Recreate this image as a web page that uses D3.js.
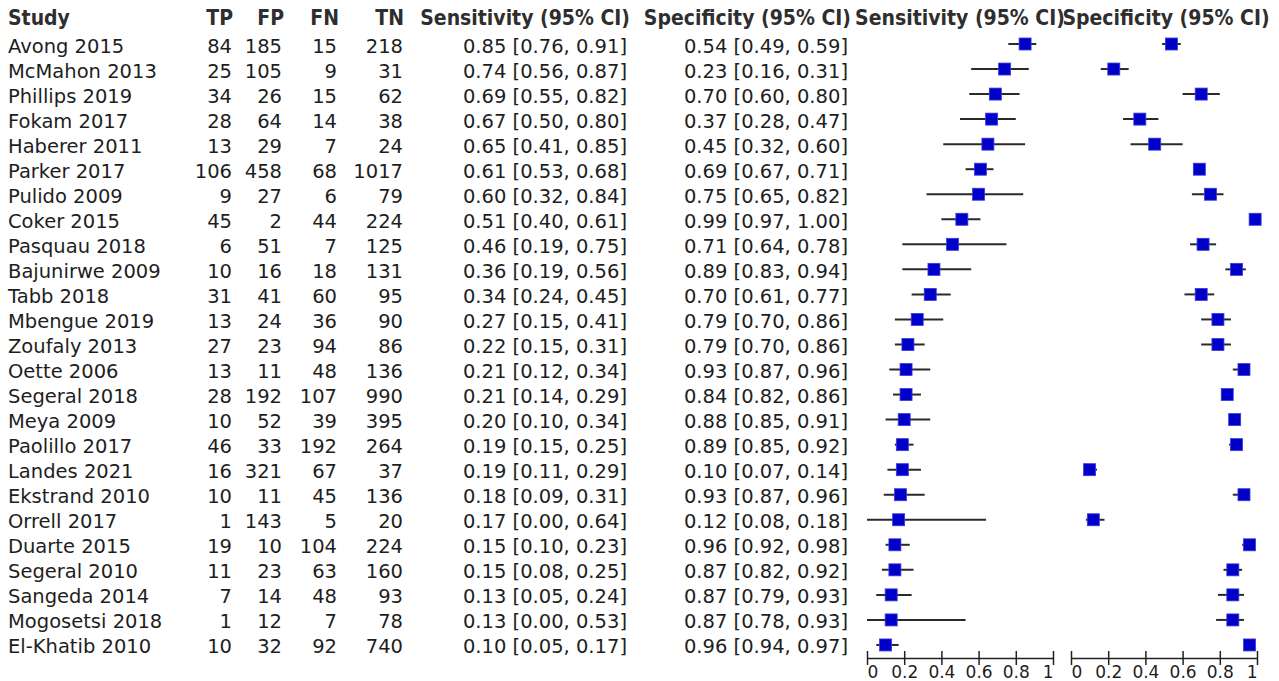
<!DOCTYPE html>
<html>
<head>
<meta charset="utf-8">
<script src="https://cdn.jsdelivr.net/npm/d3@7"></script>
<style>
  html, body { margin: 0; padding: 0; background: #fff; }
  svg { display: block; }
</style>
</head>
<body>
<svg id="chart" width="1279" height="681"></svg>
<script>
// ---------- DATA ----------
const studies = ["Avong 2015","McMahon 2013","Phillips 2019","Fokam 2017","Haberer 2011","Parker 2017","Pulido 2009","Coker 2015","Pasquau 2018","Bajunirwe 2009","Tabb 2018","Mbengue 2019","Zoufaly 2013","Oette 2006","Segeral 2018","Meya 2009","Paolillo 2017","Landes 2021","Ekstrand 2010","Orrell 2017","Duarte 2015","Segeral 2010","Sangeda 2014","Mogosetsi 2018","El-Khatib 2010"];
const tp = [84,25,34,28,13,106,9,45,6,10,31,13,27,13,28,10,46,16,10,1,19,11,7,1,10];
const fp = [185,105,26,64,29,458,27,2,51,16,41,24,23,11,192,52,33,321,11,143,10,23,14,12,32];
const fn = [15,9,15,14,7,68,6,44,7,18,60,36,94,48,107,39,192,67,45,5,104,63,48,7,92];
const tn = [218,31,62,38,24,1017,79,224,125,131,95,90,86,136,990,395,264,37,136,20,224,160,93,78,740];
const sens   = [0.85,0.74,0.69,0.67,0.65,0.61,0.60,0.51,0.46,0.36,0.34,0.27,0.22,0.21,0.21,0.20,0.19,0.19,0.18,0.17,0.15,0.15,0.13,0.13,0.10];
const sensLo = [0.76,0.56,0.55,0.50,0.41,0.53,0.32,0.40,0.19,0.19,0.24,0.15,0.15,0.12,0.14,0.10,0.15,0.11,0.09,0.00,0.10,0.08,0.05,0.00,0.05];
const sensHi = [0.91,0.87,0.82,0.80,0.85,0.68,0.84,0.61,0.75,0.56,0.45,0.41,0.31,0.34,0.29,0.34,0.25,0.29,0.31,0.64,0.23,0.25,0.24,0.53,0.17];
const spec   = [0.54,0.23,0.70,0.37,0.45,0.69,0.75,0.99,0.71,0.89,0.70,0.79,0.79,0.93,0.84,0.88,0.89,0.10,0.93,0.12,0.96,0.87,0.87,0.87,0.96];
const specLo = [0.49,0.16,0.60,0.28,0.32,0.67,0.65,0.97,0.64,0.83,0.61,0.70,0.70,0.87,0.82,0.85,0.85,0.07,0.87,0.08,0.92,0.82,0.79,0.78,0.94];
const specHi = [0.59,0.31,0.80,0.47,0.60,0.71,0.82,1.00,0.78,0.94,0.77,0.86,0.86,0.96,0.86,0.91,0.92,0.14,0.96,0.18,0.98,0.92,0.93,0.93,0.97];
const tickValues = [0, 0.2, 0.4, 0.6, 0.8, 1];
const tickLabels = ["0", "0.2", "0.4", "0.6", "0.8", "1"];
const headers = ["Study","TP","FP","FN","TN","Sensitivity (95% CI)","Specificity (95% CI)"];
const plotHeaders = ["Sensitivity (95% CI)","Specificity (95% CI)"];

// ---------- LAYOUT ----------
const svg = d3.select("#chart");
const FONT = "'DejaVu Sans', sans-serif";
const HFONT = "'DejaVu Sans Condensed', 'DejaVu Sans', sans-serif";
const textColor = "#1e1e1e";
const headColor = "#2e2e2e";

const rows = studies.map((s, i) => ({
  study: s, tp: tp[i], fp: fp[i], fn: fn[i], tn: tn[i],
  sens: sens[i], sensLo: sensLo[i], sensHi: sensHi[i],
  spec: spec[i], specLo: specLo[i], specHi: specHi[i]
}));

const y = d3.scalePoint().domain(studies).range([44, 44 + 24 * 25.04]);
const xSens = d3.scaleLinear().domain([0, 1]).range([867, 1053]);
const xSpec = d3.scaleLinear().domain([0, 1]).range([1071, 1257]);

const fmt = d3.format(".2f");
const ciText = (v, lo, hi) => `${fmt(v)} [${fmt(lo)}, ${fmt(hi)}]`;

const cols = [
  {x: 8,   anchor: "start", f: d => d.study},
  {x: 232, anchor: "end",   f: d => d.tp},
  {x: 282, anchor: "end",   f: d => d.fp},
  {x: 337, anchor: "end",   f: d => d.fn},
  {x: 403, anchor: "end",   f: d => d.tn},
  {x: 627, anchor: "end",   f: d => ciText(d.sens, d.sensLo, d.sensHi)},
  {x: 848, anchor: "end",   f: d => ciText(d.spec, d.specLo, d.specHi)}
];
const headX = [8, 233, 284, 339, 404, 630, 851];

// headers
const headerY = 25;
svg.append("g").selectAll("text").data(headers).join("text")
  .attr("x", (d, i) => headX[i])
  .attr("y", headerY)
  .attr("text-anchor", (d, i) => cols[i].anchor)
  .attr("font-family", HFONT).attr("font-stretch", "condensed")
  .attr("font-weight", "bold").attr("font-size", 21)
  .attr("fill", headColor)
  .text(d => d);

svg.append("g").selectAll("text").data(plotHeaders).join("text")
  .attr("x", (d, i) => i === 0 ? (xSens(0) + xSens(1)) / 2 : (xSpec(0) + xSpec(1)) / 2 + 2)
  .attr("y", headerY)
  .attr("text-anchor", "middle")
  .attr("font-family", HFONT).attr("font-stretch", "condensed")
  .attr("font-weight", "bold").attr("font-size", 21)
  .attr("fill", headColor)
  .text(d => d);

// body text
const body = svg.append("g");
cols.forEach(c => {
  body.append("g").selectAll("text").data(rows).join("text")
    .attr("x", c.x)
    .attr("y", d => y(d.study) + 8.5)
    .attr("text-anchor", c.anchor)
    .attr("font-family", FONT).attr("font-size", 19.5)
    .attr("fill", textColor)
    .text(c.f);
});

// forest panels
function panel(x, est, lo, hi) {
  const g = svg.append("g");
  g.selectAll("line").data(rows).join("line")
    .attr("x1", d => x(d[lo])).attr("x2", d => x(d[hi]))
    .attr("y1", d => y(d.study)).attr("y2", d => y(d.study))
    .attr("stroke", "#2a2a2a").attr("stroke-width", 2);
  const s = 12;
  g.selectAll("rect").data(rows).join("rect")
    .attr("x", d => x(d[est]) - s / 2).attr("y", d => y(d.study) - s / 2)
    .attr("width", s).attr("height", s)
    .attr("fill", "#0000c8").attr("stroke", "#3a3ae0").attr("stroke-width", 0.8);

  const axisY = 658;
  const ax = d3.axisBottom(x).tickValues(tickValues)
    .tickFormat((d, i) => tickLabels[i]).tickSize(7).tickSizeOuter(0);
  const ag = svg.append("g").attr("transform", `translate(0,${axisY})`).call(ax);
  ag.select(".domain").attr("stroke", "#222").attr("stroke-width", 1.5);
  ag.selectAll(".tick line").attr("y1", -7).attr("y2", 7).attr("stroke", "#222").attr("stroke-width", 1.5);
  ag.selectAll(".tick text")
    .attr("font-family", FONT).attr("font-size", 17).attr("fill", textColor)
    .attr("y", 8).attr("dy", "0.71em")
    .attr("text-anchor", (d, i) => i === 0 ? "start" : (i === tickValues.length - 1 ? "end" : "middle"));
}
panel(xSens, "sens", "sensLo", "sensHi");
panel(xSpec, "spec", "specLo", "specHi");
</script>
</body>
</html>
